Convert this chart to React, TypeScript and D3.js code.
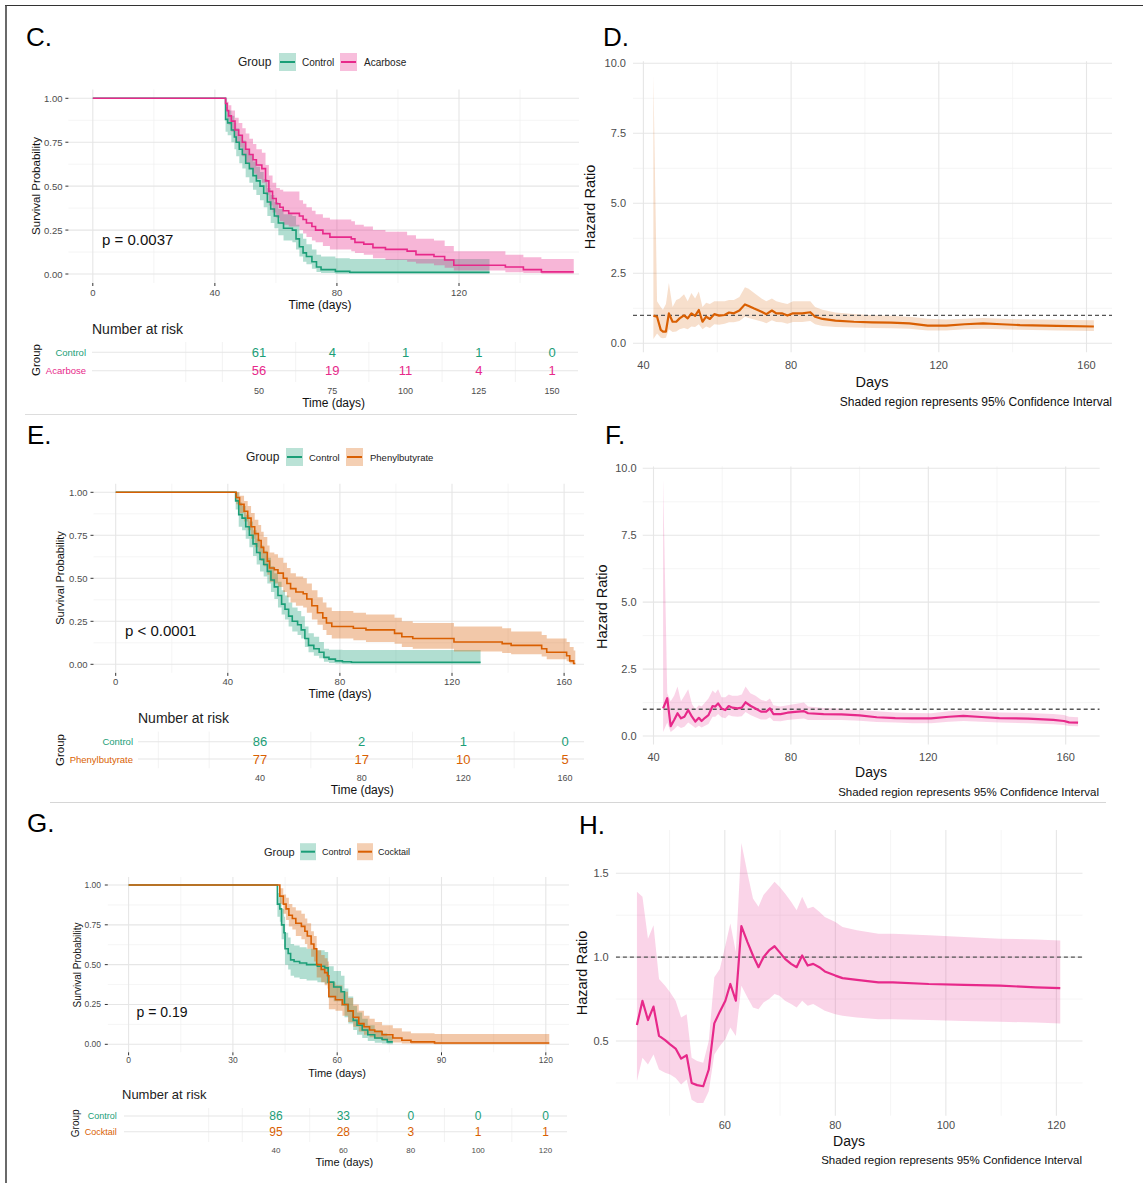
import React from "react";
import * as d3 from "d3";

const FONT = "'Liberation Sans', Arial, Helvetica, sans-serif";
const GREEN = "#1B9E77";
const MAGENTA = "#E7298A";
const ORANGE = "#D95F02";

// ---------------- Panel C (Control vs Acarbose) ----------------
const C_CTRL_T = [0, 43.5, 44.2, 45.4, 46.4, 47, 48, 49, 50.1, 51.3, 52.5, 53.6, 54.8, 56, 57.2, 58.3, 59.5, 60.8, 62.5, 65.4, 66.6, 67.7, 68.9, 70, 71.8, 73.3, 74.8, 79.5, 84.2];
const C_CTRL_S = [1, 0.88, 0.86, 0.82, 0.78, 0.75, 0.71, 0.68, 0.63, 0.6, 0.56, 0.53, 0.5, 0.46, 0.41, 0.37, 0.33, 0.29, 0.26, 0.25, 0.2, 0.155, 0.12, 0.1, 0.07, 0.04, 0.025, 0.015, 0.01];
const C_CTRL_LO = [1, 0.81, 0.79, 0.75, 0.71, 0.67, 0.63, 0.6, 0.55, 0.52, 0.48, 0.45, 0.42, 0.38, 0.33, 0.29, 0.26, 0.22, 0.19, 0.18, 0.14, 0.1, 0.07, 0.055, 0.03, 0.012, 0.005, 0.002, 0.0];
const C_CTRL_HI = [1, 0.95, 0.93, 0.9, 0.86, 0.83, 0.79, 0.76, 0.71, 0.68, 0.64, 0.61, 0.58, 0.54, 0.49, 0.45, 0.41, 0.37, 0.34, 0.33, 0.28, 0.23, 0.2, 0.17, 0.14, 0.11, 0.1, 0.09, 0.085];
const C_CTRL_END = 130;

const C_ACA_T = [0, 43.5, 44, 44.5, 45.4, 46.6, 47.8, 49, 50.1, 51.3, 52.5, 53.6, 55.4, 56.6, 57.7, 58.9, 60.1, 61.3, 62.4, 64.2, 67.7, 68.9, 70, 71.8, 73, 75.4, 77.7, 84.7, 85.9, 88.8, 91.8, 95.9, 103, 105.9, 111.8, 115.3, 118.3, 135.2, 141.1, 147];
const C_ACA_S = [1, 0.97, 0.93, 0.9, 0.87, 0.82, 0.79, 0.75, 0.71, 0.68, 0.65, 0.62, 0.6, 0.53, 0.47, 0.43, 0.4, 0.38, 0.36, 0.345, 0.33, 0.31, 0.29, 0.27, 0.25, 0.23, 0.21, 0.2, 0.18, 0.17, 0.15, 0.14, 0.13, 0.11, 0.1, 0.08, 0.05, 0.04, 0.025, 0.012];
const C_ACA_LO = [1, 0.93, 0.88, 0.85, 0.81, 0.75, 0.72, 0.67, 0.63, 0.6, 0.57, 0.54, 0.52, 0.45, 0.39, 0.35, 0.32, 0.3, 0.28, 0.27, 0.25, 0.23, 0.21, 0.19, 0.18, 0.16, 0.14, 0.13, 0.12, 0.11, 0.09, 0.08, 0.07, 0.06, 0.05, 0.035, 0.02, 0.01, 0.005, 0.001];
const C_ACA_HI = [1, 1.0, 0.98, 0.96, 0.93, 0.89, 0.86, 0.83, 0.8, 0.77, 0.74, 0.71, 0.69, 0.62, 0.56, 0.52, 0.49, 0.48, 0.47, 0.47, 0.42, 0.4, 0.38, 0.36, 0.34, 0.32, 0.31, 0.3, 0.28, 0.27, 0.25, 0.24, 0.22, 0.2, 0.19, 0.16, 0.13, 0.11, 0.095, 0.085];
const C_ACA_END = 157.6;

const C_RISK_TIMES = [50, 75, 100, 125, 150];
const C_RISK_CTRL = [61, 4, 1, 1, 0];
const C_RISK_ACA = [56, 19, 11, 4, 1];

// ---------------- Panel E (Control vs Phenylbutyrate) ----------------
const E_CTRL_T = [0, 42.8, 43.9, 45.1, 46.4, 47.7, 49, 50.3, 51.5, 52.8, 54.1, 55.4, 56.6, 57.9, 59.2, 60.4, 61.7, 63, 64.9, 66.2, 67.5, 68.8, 70.7, 72.6, 74.3, 76.1, 78.4, 80.9, 84.1];
const E_CTRL_S = [1, 0.95, 0.87, 0.85, 0.8, 0.75, 0.7, 0.65, 0.61, 0.58, 0.54, 0.49, 0.45, 0.4, 0.35, 0.32, 0.28, 0.25, 0.23, 0.2, 0.15, 0.11, 0.09, 0.07, 0.04, 0.03, 0.02, 0.015, 0.012];
const E_CTRL_LO = [1, 0.9, 0.8, 0.78, 0.73, 0.68, 0.63, 0.58, 0.54, 0.51, 0.47, 0.42, 0.38, 0.33, 0.29, 0.26, 0.22, 0.19, 0.17, 0.15, 0.1, 0.07, 0.05, 0.035, 0.015, 0.008, 0.004, 0.002, 0.001];
const E_CTRL_HI = [1, 1.0, 0.94, 0.92, 0.87, 0.83, 0.78, 0.73, 0.69, 0.66, 0.62, 0.57, 0.53, 0.48, 0.43, 0.4, 0.36, 0.33, 0.31, 0.28, 0.22, 0.18, 0.16, 0.13, 0.09, 0.085, 0.085, 0.083, 0.083];
const E_CTRL_END = 130.2;

const E_PHE_T = [0, 43, 44.2, 45.8, 47.1, 48.3, 49.6, 50.9, 51.9, 52.8, 54.1, 54.9, 56.6, 57.9, 59.8, 61.1, 62.4, 64.3, 66.9, 68.2, 70, 72, 73.9, 75.2, 77.1, 84.8, 89.3, 99.5, 102.1, 106, 120.7, 137.9, 141.1, 152, 153.8, 160.9, 162, 163.4];
const E_PHE_S = [1, 0.97, 0.93, 0.89, 0.85, 0.8, 0.76, 0.72, 0.68, 0.65, 0.6, 0.56, 0.55, 0.53, 0.5, 0.47, 0.44, 0.42, 0.41, 0.38, 0.34, 0.3, 0.27, 0.24, 0.22, 0.21, 0.2, 0.18, 0.16, 0.15, 0.13, 0.12, 0.11, 0.09, 0.07, 0.05, 0.02, 0.005];
const E_PHE_LO = [1, 0.93, 0.88, 0.83, 0.78, 0.73, 0.68, 0.64, 0.6, 0.57, 0.52, 0.48, 0.47, 0.45, 0.42, 0.39, 0.36, 0.34, 0.33, 0.3, 0.26, 0.23, 0.2, 0.17, 0.15, 0.14, 0.13, 0.12, 0.1, 0.09, 0.075, 0.065, 0.058, 0.045, 0.03, 0.018, 0.004, 0.0];
const E_PHE_HI = [1, 1.0, 0.98, 0.95, 0.92, 0.88, 0.84, 0.81, 0.77, 0.74, 0.69, 0.65, 0.64, 0.62, 0.59, 0.56, 0.53, 0.51, 0.5, 0.47, 0.43, 0.39, 0.36, 0.33, 0.31, 0.3, 0.29, 0.27, 0.25, 0.24, 0.22, 0.21, 0.19, 0.17, 0.15, 0.13, 0.1, 0.08];
const E_PHE_END = 164;

const E_RISK_TIMES = [40, 80, 120, 160];
const E_RISK_CTRL = [86, 2, 1, 0];
const E_RISK_PHE = [77, 17, 10, 5];

// ---------------- Panel G (Control vs Cocktail) ----------------
const G_CTRL_T = [0, 42.8, 43.5, 44, 44.7, 45, 45.9, 46.6, 47.6, 49.2, 51.2, 54.3, 56.4, 57.4, 59, 61.1, 62.1, 63.2, 64.6, 65.7, 67.2, 68.8, 70.8, 72.9, 74.4];
const G_CTRL_S = [1, 0.88, 0.85, 0.75, 0.7, 0.6, 0.57, 0.53, 0.52, 0.51, 0.5, 0.49, 0.48, 0.39, 0.36, 0.33, 0.25, 0.21, 0.15, 0.12, 0.09, 0.06, 0.04, 0.03, 0.015];
const G_CTRL_LO = [1, 0.8, 0.77, 0.66, 0.61, 0.5, 0.47, 0.43, 0.42, 0.41, 0.4, 0.39, 0.38, 0.29, 0.27, 0.24, 0.17, 0.13, 0.09, 0.06, 0.04, 0.02, 0.01, 0.005, 0.0];
const G_CTRL_HI = [1, 0.95, 0.93, 0.85, 0.8, 0.7, 0.67, 0.63, 0.62, 0.61, 0.6, 0.59, 0.58, 0.49, 0.46, 0.43, 0.35, 0.3, 0.24, 0.2, 0.16, 0.12, 0.09, 0.07, 0.05];
const G_CTRL_END = 76;

const G_COC_T = [0, 43.5, 44.5, 45.3, 46.1, 47.1, 48.1, 49.7, 50.7, 51.4, 52.5, 53.3, 54.1, 55.4, 56.4, 57.2, 57.6, 59.5, 61.5, 63.1, 64.6, 66.2, 67.7, 69.3, 70.8, 72.9, 76, 78.6, 81.2, 88];
const G_COC_S = [1, 0.93, 0.88, 0.85, 0.81, 0.79, 0.76, 0.74, 0.71, 0.68, 0.63, 0.6, 0.5, 0.47, 0.45, 0.43, 0.3, 0.28, 0.25, 0.21, 0.17, 0.13, 0.11, 0.09, 0.08, 0.06, 0.04, 0.025, 0.015, 0.008];
const G_COC_LO = [1, 0.88, 0.82, 0.78, 0.74, 0.72, 0.68, 0.66, 0.63, 0.6, 0.55, 0.52, 0.42, 0.39, 0.37, 0.35, 0.22, 0.21, 0.18, 0.14, 0.11, 0.08, 0.06, 0.045, 0.035, 0.022, 0.012, 0.005, 0.002, 0.0];
const G_COC_HI = [1, 0.98, 0.94, 0.92, 0.88, 0.86, 0.84, 0.82, 0.79, 0.76, 0.71, 0.68, 0.59, 0.56, 0.54, 0.52, 0.39, 0.37, 0.33, 0.29, 0.25, 0.21, 0.18, 0.16, 0.14, 0.12, 0.1, 0.08, 0.07, 0.065];
const G_COC_END = 121;

const G_RISK_TIMES = [40, 60, 80, 100, 120];
const G_RISK_CTRL = [86, 33, 0, 0, 0];
const G_RISK_COC = [95, 28, 3, 1, 1];

// ---------------- Panel D (hazard ratio, Acarbose) ----------------
const D_DAYS = [42.7, 43.7, 44.7, 45.3, 46.1, 46.9, 47.9, 48.9, 49.8, 51, 52, 53, 54, 55, 56, 57, 58, 59.2, 60.5, 62, 63.2, 64.5, 66, 67.5, 68.5, 70, 72, 73.3, 74.8, 76, 77.5, 79, 80.5, 83, 85.2, 86.5, 88.5, 92, 97, 102, 107, 112, 117, 122, 127, 132, 137, 142, 152, 162];
const D_HR = [0.99, 0.95, 0.48, 0.42, 0.42, 1.07, 0.77, 0.77, 0.89, 1.0, 0.89, 1.07, 0.98, 1.19, 0.77, 0.95, 0.87, 1.04, 0.99, 1.01, 1.1, 1.07, 1.17, 1.39, 1.33, 1.24, 1.13, 1.04, 1.17, 1.07, 1.07, 0.99, 1.07, 1.07, 1.11, 0.95, 0.87, 0.81, 0.77, 0.75, 0.74, 0.71, 0.63, 0.63, 0.68, 0.71, 0.68, 0.65, 0.62, 0.6];
const D_HI = [9.6, 1.5, 1.3, 1.2, 1.4, 2.15, 1.3, 1.55, 1.6, 1.75, 1.5, 1.8, 1.6, 1.85, 1.3, 1.45, 1.4, 1.5, 1.5, 1.5, 1.55, 1.55, 1.65, 2.0, 1.95, 1.8, 1.6, 1.5, 1.6, 1.5, 1.45, 1.4, 1.5, 1.5, 1.5, 1.3, 1.2, 1.1, 1.05, 1.0, 0.98, 0.95, 0.88, 0.85, 0.88, 0.9, 0.88, 0.86, 0.84, 0.82];
const D_LO = [0.15, 0.35, 0.2, 0.18, 0.2, 0.5, 0.4, 0.42, 0.5, 0.55, 0.5, 0.6, 0.58, 0.68, 0.5, 0.6, 0.55, 0.68, 0.66, 0.7, 0.75, 0.75, 0.8, 0.95, 0.9, 0.85, 0.78, 0.72, 0.82, 0.76, 0.75, 0.7, 0.76, 0.76, 0.8, 0.68, 0.62, 0.58, 0.56, 0.55, 0.54, 0.52, 0.46, 0.46, 0.5, 0.52, 0.5, 0.48, 0.46, 0.44];

// ---------------- Panel F (hazard ratio, Phenylbutyrate) ----------------
const F_DAYS = [42.8, 44, 45, 46, 47, 48, 49, 50.1, 51.2, 52.2, 53.2, 54, 55, 56, 57.2, 58, 58.8, 59.8, 60.9, 61.9, 62.9, 64.5, 65.7, 66.8, 68.2, 69.7, 71.3, 72.8, 73.9, 74.9, 77, 79, 81.2, 83.8, 85, 89.5, 94.7, 100, 105, 110.4, 115.6, 120.8, 126, 130.2, 135.5, 140.7, 149, 156.4, 159.5, 161, 163.6];
const F_HR = [1.03, 1.41, 0.37, 0.6, 0.85, 0.66, 0.72, 0.97, 0.72, 0.54, 0.68, 0.56, 0.68, 0.78, 1.12, 1.1, 1.22, 1.03, 0.97, 1.12, 1.06, 1.03, 1.06, 1.26, 1.13, 1.03, 0.91, 0.91, 1.03, 0.82, 0.82, 0.87, 0.9, 0.93, 0.85, 0.82, 0.81, 0.77, 0.7, 0.67, 0.66, 0.66, 0.72, 0.75, 0.71, 0.67, 0.65, 0.6, 0.56, 0.51, 0.5];
const F_HI = [9.6, 1.6, 1.3, 1.5, 1.85, 1.3, 1.5, 1.75, 1.2, 1.0, 1.15, 1.1, 1.25, 1.4, 1.7, 1.6, 1.75, 1.45, 1.45, 1.55, 1.5, 1.5, 1.55, 1.85, 1.6, 1.5, 1.35, 1.3, 1.4, 1.15, 1.1, 1.15, 1.2, 1.25, 1.1, 1.05, 1.02, 0.97, 0.92, 0.88, 0.86, 0.85, 0.92, 0.95, 0.92, 0.88, 0.86, 0.82, 0.78, 0.72, 0.7];
const F_LO = [0.15, 0.5, 0.15, 0.25, 0.38, 0.3, 0.35, 0.5, 0.4, 0.3, 0.38, 0.32, 0.38, 0.45, 0.72, 0.72, 0.82, 0.7, 0.66, 0.78, 0.74, 0.72, 0.74, 0.9, 0.78, 0.7, 0.62, 0.62, 0.7, 0.56, 0.55, 0.6, 0.63, 0.65, 0.6, 0.6, 0.6, 0.57, 0.52, 0.5, 0.48, 0.48, 0.53, 0.56, 0.53, 0.5, 0.48, 0.44, 0.41, 0.37, 0.36];

// ---------------- Panel H (hazard ratio, Cocktail) ----------------
const H_DAYS = [44.1, 45.1, 46.1, 47.1, 48.1, 49.2, 50.1, 51.1, 52.1, 53.1, 54, 55, 56.1, 57.1, 58.1, 59.1, 60.1, 61, 62, 63, 64.1, 65.1, 66.1, 67, 68, 69, 69.9, 70.9, 72, 73, 74, 75, 76, 77.1, 78.1, 80, 81.3, 83.9, 87.8, 90.4, 96.9, 103.3, 109.8, 116.3, 120.7];
const H_HR = [0.595, 0.74, 0.625, 0.705, 0.53, 0.505, 0.48, 0.455, 0.395, 0.415, 0.25, 0.237, 0.23, 0.33, 0.605, 0.675, 0.74, 0.84, 0.74, 1.185, 1.09, 1.01, 0.94, 1.0, 1.04, 1.065, 1.03, 0.99, 0.96, 0.94, 1.01, 0.95, 0.96, 0.94, 0.915, 0.89, 0.875, 0.865, 0.85, 0.85, 0.84, 0.835, 0.83, 0.82, 0.815];
const H_HI = [1.39, 1.36, 1.11, 1.19, 0.87, 0.83, 0.79, 0.74, 0.64, 0.66, 0.4, 0.38, 0.37, 0.5, 0.88, 0.93, 1.07, 1.2, 1.03, 1.68, 1.5, 1.35, 1.3, 1.37, 1.41, 1.45, 1.42, 1.38, 1.33, 1.28, 1.36, 1.29, 1.3, 1.27, 1.24, 1.21, 1.18, 1.16, 1.14, 1.14, 1.13, 1.12, 1.11, 1.105, 1.1];
const H_LO = [0.26, 0.4, 0.36, 0.42, 0.33, 0.31, 0.3, 0.28, 0.24, 0.27, 0.15, 0.13, 0.13, 0.2, 0.42, 0.47, 0.51, 0.58, 0.53, 0.83, 0.76, 0.7, 0.69, 0.73, 0.75, 0.78, 0.77, 0.74, 0.72, 0.7, 0.74, 0.71, 0.72, 0.7, 0.68, 0.66, 0.65, 0.64, 0.63, 0.63, 0.625, 0.62, 0.615, 0.61, 0.605];

const CAPTION = "Shaded region represents 95% Confidence Interval";

// ---------------- helpers ----------------
const GRID_MAJOR = "#E6E6E6";
const GRID_MINOR = "#F0F0F0";
const TICK_COL = "#4D4D4D";

function stepLine(x: any, y: any, t: number[], s: number[], end: number) {
  const pts: [number, number][] = t.map((ti, i) => [ti, s[i]]);
  pts.push([end, s[s.length - 1]]);
  return d3.line<[number, number]>().x((d) => x(d[0])).y((d) => y(d[1])).curve(d3.curveStepAfter)(pts) || "";
}
function stepArea(x: any, y: any, t: number[], lo: number[], hi: number[], end: number) {
  const pts: [number, number, number][] = t.map((ti, i) => [ti, lo[i], hi[i]]);
  pts.push([end, lo[lo.length - 1], hi[hi.length - 1]]);
  return d3.area<[number, number, number]>().x((d) => x(d[0])).y0((d) => y(d[1])).y1((d) => y(d[2])).curve(d3.curveStepAfter)(pts) || "";
}

function Txt(props: any) {
  const { x, y, size, anchor, color, weight, rotate, children } = props;
  return (
    <text
      x={x}
      y={y}
      fontSize={size}
      fontFamily={FONT}
      textAnchor={anchor || "start"}
      dominantBaseline="central"
      fill={color || "#000"}
      fontWeight={weight || "normal"}
      transform={rotate ? `rotate(-90 ${x} ${y})` : undefined}
    >
      {children}
    </text>
  );
}

function KMPanel({ cfg, curves }: any) {
  const x = d3.scaleLinear().domain(cfg.xd).range(cfg.xr);
  const y = d3.scaleLinear().domain([0, 1]).range(cfg.yr);
  const { l, r, t, b } = cfg.panel;
  const yMajor = [0, 0.25, 0.5, 0.75, 1];
  const yMinor = [0.125, 0.375, 0.625, 0.875];
  const fmt = d3.format(".2f");
  const rk = cfg.risk;
  const rx = d3.scaleLinear().domain(rk.xd).range(rk.xr);
  const clipId = "clip-" + cfg.id;
  return (
    <g>
      <Txt x={cfg.lx} y={cfg.ly} size={26}>{cfg.label}</Txt>
      {/* legend */}
      <Txt x={cfg.legend.groupX} y={cfg.legend.y} size={cfg.legend.groupFs} color="#222">Group</Txt>
      {curves.map((c: any, i: number) => {
        const it = cfg.legend.items[i];
        return (
          <g key={i}>
            <rect x={it.sx} y={cfg.legend.y - cfg.legend.sh / 2} width={cfg.legend.sw} height={cfg.legend.sh} fill={c.color} fillOpacity={0.3} />
            <line x1={it.sx + 1} x2={it.sx + cfg.legend.sw - 1} y1={cfg.legend.y} y2={cfg.legend.y} stroke={c.color} strokeWidth={2} />
            <Txt x={it.tx} y={cfg.legend.y} size={cfg.legend.itemFs} color="#222">{c.name}</Txt>
          </g>
        );
      })}
      <defs>
        <clipPath id={clipId}>
          <rect x={l} y={t} width={r - l} height={b - t} />
        </clipPath>
      </defs>
      {/* grid */}
      {yMinor.map((v) => (
        <line key={"ym" + v} x1={l} x2={r} y1={y(v)} y2={y(v)} stroke={GRID_MINOR} strokeWidth={0.7} />
      ))}
      {cfg.xMinor.map((v: number) => (
        <line key={"xm" + v} x1={x(v)} x2={x(v)} y1={t} y2={b} stroke={GRID_MINOR} strokeWidth={0.7} />
      ))}
      {yMajor.map((v) => (
        <line key={"yM" + v} x1={l} x2={r} y1={y(v)} y2={y(v)} stroke={GRID_MAJOR} strokeWidth={1.1} />
      ))}
      {cfg.xMajor.map((v: number) => (
        <line key={"xM" + v} x1={x(v)} x2={x(v)} y1={t} y2={b} stroke={GRID_MAJOR} strokeWidth={1.1} />
      ))}
      {/* bands & curves */}
      <g clipPath={`url(#${clipId})`}>
        {curves.map((c: any, i: number) => (
          <path key={"a" + i} d={stepArea(x, y, c.t, c.lo, c.hi, c.end)} fill={c.color} fillOpacity={0.34} stroke="none" />
        ))}
        {curves.map((c: any, i: number) => (
          <path key={"l" + i} d={stepLine(x, y, c.t, c.s, c.end)} fill="none" stroke={c.color} strokeWidth={1.6} />
        ))}
      </g>
      {/* axes ticks */}
      {yMajor.map((v) => (
        <g key={"yt" + v}>
          <line x1={l - 3} x2={l} y1={y(v)} y2={y(v)} stroke="#333" strokeWidth={1} />
          <Txt x={cfg.yTickRight} y={y(v)} size={cfg.tickFs} anchor="end" color={TICK_COL}>{fmt(v)}</Txt>
        </g>
      ))}
      {cfg.xMajor.map((v: number) => (
        <g key={"xt" + v}>
          <line x1={x(v)} x2={x(v)} y1={b} y2={b + 3} stroke="#333" strokeWidth={1} />
          <Txt x={x(v)} y={cfg.xTickY} size={cfg.tickFs} anchor="middle" color={TICK_COL}>{String(v)}</Txt>
        </g>
      ))}
      <Txt x={cfg.xTitle[0]} y={cfg.xTitle[1]} size={cfg.xTitle[2]} anchor="middle" color="#111">Time (days)</Txt>
      <Txt x={cfg.yTitle[0]} y={cfg.yTitle[1]} size={cfg.yTitle[2]} anchor="middle" color="#111" rotate>Survival Probability</Txt>
      <Txt x={cfg.p[0]} y={cfg.p[1]} size={cfg.p[2]} color="#111">{cfg.pText}</Txt>

      {/* risk table */}
      <Txt x={rk.title[0]} y={rk.title[1]} size={rk.title[2]} color="#222">Number at risk</Txt>
      <Txt x={rk.group[0]} y={rk.group[1]} size={rk.group[2]} anchor="middle" color="#111" rotate>Group</Txt>
      {rk.vlines.map((v: number) => (
        <line key={"rv" + v} x1={rx(v)} x2={rx(v)} y1={rk.vTop} y2={rk.vBottom} stroke={GRID_MINOR} strokeWidth={0.8} />
      ))}
      {rk.rows.map((ry: number, i: number) => (
        <line key={"rh" + i} x1={rk.lineL} x2={rk.lineR} y1={ry} y2={ry} stroke={GRID_MAJOR} strokeWidth={1.1} />
      ))}
      {curves.map((c: any, i: number) => (
        <g key={"rr" + i}>
          <Txt x={rk.labelRight} y={rk.rows[i]} size={rk.labelFs} anchor="end" color={c.color}>{c.name}</Txt>
          {rk.times.map((tm: number, j: number) => (
            <Txt key={j} x={rx(tm)} y={rk.rows[i]} size={rk.numFs} anchor="middle" color={c.color}>{String(c.risk[j])}</Txt>
          ))}
        </g>
      ))}
      {rk.times.map((tm: number) => (
        <Txt key={"rt" + tm} x={rx(tm)} y={rk.tickY} size={rk.tickFs} anchor="middle" color={TICK_COL}>{String(tm)}</Txt>
      ))}
      <Txt x={rk.xTitle[0]} y={rk.xTitle[1]} size={rk.xTitle[2]} anchor="middle" color="#111">Time (days)</Txt>
    </g>
  );
}

function HRPanel({ cfg, days, hr, lo, hi, color }: any) {
  const x = d3.scaleLinear().domain(cfg.xd).range(cfg.xr);
  const y = d3.scaleLinear().domain(cfg.yd).range(cfg.yr);
  const { l, r, t, b } = cfg.panel;
  const fmt = d3.format(".1f");
  const idx = days.map((_: number, i: number) => i);
  const area = d3.area<number>().x((i) => x(days[i])).y0((i) => y(lo[i])).y1((i) => y(hi[i]))(idx) || "";
  const line = d3.line<number>().x((i) => x(days[i])).y((i) => y(hr[i]))(idx) || "";
  const clipId = "clip-" + cfg.id;
  return (
    <g>
      <Txt x={cfg.lx} y={cfg.ly} size={26}>{cfg.label}</Txt>
      <defs>
        <clipPath id={clipId}>
          <rect x={l} y={t} width={r - l} height={b - t} />
        </clipPath>
      </defs>
      {cfg.yMinor.map((v: number) => (
        <line key={"ym" + v} x1={l} x2={r} y1={y(v)} y2={y(v)} stroke={GRID_MINOR} strokeWidth={0.7} />
      ))}
      {cfg.xMinor.map((v: number) => (
        <line key={"xm" + v} x1={x(v)} x2={x(v)} y1={t} y2={b} stroke={GRID_MINOR} strokeWidth={0.7} />
      ))}
      {cfg.yMajor.map((v: number) => (
        <line key={"yM" + v} x1={l} x2={r} y1={y(v)} y2={y(v)} stroke={GRID_MAJOR} strokeWidth={1.1} />
      ))}
      {cfg.xMajor.map((v: number) => (
        <line key={"xM" + v} x1={x(v)} x2={x(v)} y1={t} y2={b} stroke={GRID_MAJOR} strokeWidth={1.1} />
      ))}
      <g clipPath={`url(#${clipId})`}>
        <path d={area} fill={color} fillOpacity={0.2} stroke="none" />
        <line x1={l} x2={r} y1={y(1)} y2={y(1)} stroke="#555" strokeWidth={1.3} strokeDasharray="4 3" />
        <path d={line} fill="none" stroke={color} strokeWidth={2.2} strokeLinejoin="round" />
      </g>
      {cfg.yMajor.map((v: number) => (
        <Txt key={"yt" + v} x={cfg.yTickRight} y={y(v)} size={cfg.tickFs} anchor="end" color={TICK_COL}>{fmt(v)}</Txt>
      ))}
      {cfg.xMajor.map((v: number) => (
        <Txt key={"xt" + v} x={x(v)} y={cfg.xTickY} size={cfg.tickFs} anchor="middle" color={TICK_COL}>{String(v)}</Txt>
      ))}
      <Txt x={cfg.days[0]} y={cfg.days[1]} size={cfg.days[2]} anchor="middle" color="#111">Days</Txt>
      <Txt x={cfg.cap[0]} y={cfg.cap[1]} size={cfg.cap[2]} anchor="end" color="#111">{CAPTION}</Txt>
      <Txt x={cfg.yTitle[0]} y={cfg.yTitle[1]} size={cfg.yTitle[2]} anchor="middle" color="#111" rotate>Hazard Ratio</Txt>
    </g>
  );
}

// ---------------- layout configs ----------------
const CFG_C = {
  id: "c", label: "C.", lx: 26, ly: 37,
  legend: { y: 62, groupX: 238, groupFs: 12, itemFs: 10, sw: 17, sh: 18, items: [{ sx: 279, tx: 302 }, { sx: 340, tx: 364 }] },
  panel: { l: 68.4, r: 579, t: 89.4, b: 283 },
  xd: [0, 120], xr: [92.8, 459], yr: [274, 98.3],
  xMajor: [0, 40, 80, 120], xMinor: [20, 60, 100, 140],
  tickFs: 9.5, xTickY: 292, yTickRight: 62.5,
  xTitle: [320, 305, 12], yTitle: [36, 186, 11.5],
  pText: "p = 0.0037", p: [102, 239, 15],
  risk: {
    title: [92, 329, 14], group: [36, 360, 11.5], labelRight: 86, labelFs: 9.5, rows: [352.3, 370.7], numFs: 13,
    xd: [50, 150], xr: [259, 552], times: C_RISK_TIMES, tickY: 391, tickFs: 9,
    vlines: [25, 37.5, 62.5, 87.5, 112.5, 137.5], vTop: 342, vBottom: 382, lineL: 92, lineR: 578,
    xTitle: [333.6, 403, 12],
  },
};
const CFG_E = {
  id: "e", label: "E.", lx: 27, ly: 435,
  legend: { y: 457, groupX: 246, groupFs: 12, itemFs: 9.5, sw: 17, sh: 18, items: [{ sx: 286, tx: 309 }, { sx: 346, tx: 370 }] },
  panel: { l: 93.5, r: 584, t: 483.7, b: 672.9 },
  xd: [0, 160], xr: [115.7, 564.1], yr: [664.3, 492.3],
  xMajor: [0, 40, 80, 120, 160], xMinor: [20, 60, 100, 140],
  tickFs: 9.5, xTickY: 681, yTickRight: 87.5,
  xTitle: [340, 694.3, 12], yTitle: [60, 578, 11],
  pText: "p < 0.0001", p: [125, 630, 15],
  risk: {
    title: [138, 718.3, 14], group: [60, 750, 11.5], labelRight: 133, labelFs: 9.5, rows: [741.7, 759], numFs: 13,
    xd: [40, 160], xr: [260, 565], times: E_RISK_TIMES, tickY: 778.3, tickFs: 9,
    vlines: [0, 20, 60, 100, 140], vTop: 731.7, vBottom: 768.3, lineL: 138, lineR: 584,
    xTitle: [362.3, 790, 12],
  },
};
const CFG_G = {
  id: "g", label: "G.", lx: 27, ly: 823,
  legend: { y: 851.7, groupX: 264, groupFs: 11, itemFs: 9, sw: 16, sh: 17, items: [{ sx: 300, tx: 322 }, { sx: 357, tx: 378 }] },
  panel: { l: 107.8, r: 569, t: 877, b: 1052.3 },
  xd: [0, 120], xr: [128.6, 545.8], yr: [1044.3, 885],
  xMajor: [0, 30, 60, 90, 120], xMinor: [15, 45, 75, 105],
  tickFs: 8.5, xTickY: 1060, yTickRight: 101,
  xTitle: [337, 1072.7, 11], yTitle: [77, 965, 10],
  pText: "p = 0.19", p: [136.5, 1012, 14],
  risk: {
    title: [122, 1094.3, 13], group: [75.6, 1123.3, 10], labelRight: 116.8, labelFs: 9, rows: [1116, 1131.7], numFs: 12,
    xd: [40, 120], xr: [276, 545.5], times: G_RISK_TIMES, tickY: 1150.7, tickFs: 8,
    vlines: [20, 30, 50, 70, 90, 110], vTop: 1108, vBottom: 1142, lineL: 124, lineR: 567,
    xTitle: [344.4, 1161.7, 11],
  },
};

const CFG_D = {
  id: "d", label: "D.", lx: 603, ly: 37,
  panel: { l: 633, r: 1112, t: 61.3, b: 352.3 },
  xd: [40, 160], xr: [643.4, 1086.5], yd: [0, 10], yr: [343.3, 63.3],
  xMajor: [40, 80, 120, 160], xMinor: [60, 100, 140],
  yMajor: [0, 2.5, 5, 7.5, 10], yMinor: [1.25, 3.75, 6.25, 8.75],
  tickFs: 11, yTickRight: 626, xTickY: 365,
  days: [872, 382, 14.5], cap: [1112, 402, 12], yTitle: [590, 207, 14.5],
};
const CFG_F = {
  id: "f", label: "F.", lx: 605, ly: 435,
  panel: { l: 642.7, r: 1099.7, t: 466.4, b: 744.6 },
  xd: [40, 160], xr: [653.5, 1065.7], yd: [0, 10], yr: [736, 468.3],
  xMajor: [40, 80, 120, 160], xMinor: [60, 100, 140],
  yMajor: [0, 2.5, 5, 7.5, 10], yMinor: [1.25, 3.75, 6.25, 8.75],
  tickFs: 11, yTickRight: 636.6, xTickY: 756.7,
  days: [871, 772.3, 14], cap: [1099, 791.7, 11.5], yTitle: [602, 606.7, 14.5],
};
const CFG_H = {
  id: "h", label: "H.", lx: 579, ly: 825,
  panel: { l: 615.9, r: 1082.5, t: 830, b: 1115.7 },
  xd: [60, 120], xr: [724.8, 1056.4], yd: [0.5, 1.5], yr: [1041, 873.3],
  xMajor: [60, 80, 100, 120], xMinor: [50, 70, 90, 110],
  yMajor: [0.5, 1, 1.5], yMinor: [0.25, 0.75, 1.25],
  tickFs: 11, yTickRight: 608.7, xTickY: 1125,
  days: [849, 1140.7, 14], cap: [1082, 1160, 11.5], yTitle: [581.5, 973, 14.5],
};

export default function App() {
  const cCurves = [
    { name: "Control", color: GREEN, t: C_CTRL_T, s: C_CTRL_S, lo: C_CTRL_LO, hi: C_CTRL_HI, end: C_CTRL_END, risk: C_RISK_CTRL },
    { name: "Acarbose", color: MAGENTA, t: C_ACA_T, s: C_ACA_S, lo: C_ACA_LO, hi: C_ACA_HI, end: C_ACA_END, risk: C_RISK_ACA },
  ];
  const eCurves = [
    { name: "Control", color: GREEN, t: E_CTRL_T, s: E_CTRL_S, lo: E_CTRL_LO, hi: E_CTRL_HI, end: E_CTRL_END, risk: E_RISK_CTRL },
    { name: "Phenylbutyrate", color: ORANGE, t: E_PHE_T, s: E_PHE_S, lo: E_PHE_LO, hi: E_PHE_HI, end: E_PHE_END, risk: E_RISK_PHE },
  ];
  const gCurves = [
    { name: "Control", color: GREEN, t: G_CTRL_T, s: G_CTRL_S, lo: G_CTRL_LO, hi: G_CTRL_HI, end: G_CTRL_END, risk: G_RISK_CTRL },
    { name: "Cocktail", color: ORANGE, t: G_COC_T, s: G_COC_S, lo: G_COC_LO, hi: G_COC_HI, end: G_COC_END, risk: G_RISK_COC },
  ];
  return (
    <svg width={1143} height={1183} style={{ position: "absolute", left: 0, top: 0, display: "block", background: "#fff" }}>
      <rect x={0} y={0} width={1143} height={1183} fill="#fff" />
      {/* frame */}
      <line x1={5} x2={1143} y1={5.5} y2={5.5} stroke="#333" strokeWidth={1.2} />
      <line x1={6} x2={6} y1={5} y2={1183} stroke="#444" strokeWidth={1.6} />
      {/* separators */}
      <line x1={25} x2={577} y1={414.5} y2={414.5} stroke="#DDDDDD" strokeWidth={1} />
      <line x1={50} x2={1106} y1={802.5} y2={802.5} stroke="#D6D6D6" strokeWidth={1} />

      <KMPanel cfg={CFG_C} curves={cCurves} />
      <KMPanel cfg={CFG_E} curves={eCurves} />
      <KMPanel cfg={CFG_G} curves={gCurves} />
      <HRPanel cfg={CFG_D} days={D_DAYS} hr={D_HR} lo={D_LO} hi={D_HI} color={ORANGE} />
      <HRPanel cfg={CFG_F} days={F_DAYS} hr={F_HR} lo={F_LO} hi={F_HI} color={MAGENTA} />
      <HRPanel cfg={CFG_H} days={H_DAYS} hr={H_HR} lo={H_LO} hi={H_HI} color={MAGENTA} />
    </svg>
  );
}
